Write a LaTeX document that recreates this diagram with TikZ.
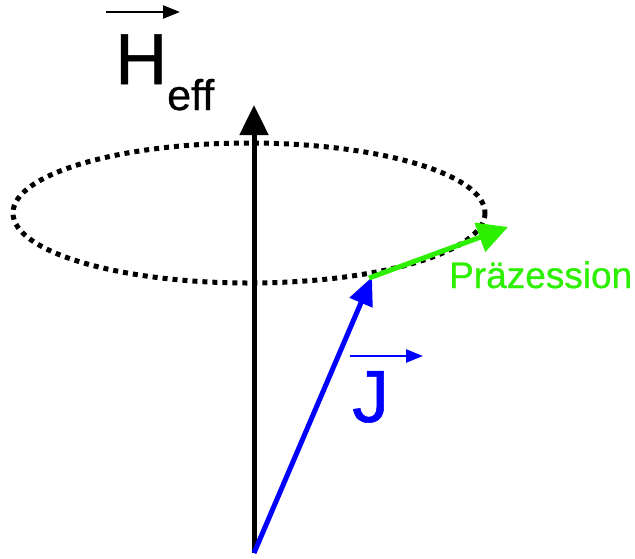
\documentclass[tikz,border=0pt]{standalone}
\usepackage{fontspec}
\setmainfont{Liberation Sans}
\newfontfamily\labelfont[FakeBold=0.7]{Liberation Sans}
\usetikzlibrary{arrows.meta}
\definecolor{spinblue}{RGB}{0,0,255}
\definecolor{precgreen}{RGB}{45,240,0}
\tikzset{
  axis/.style={line width=5pt,-{Triangle[length=30pt,width=28pt]}},
  vecbar/.style={line width=2.4pt,-{Triangle[length=17pt,width=13pt]}},
  orbit/.style={line width=5pt,dash pattern=on 5pt off 5pt},
  lbl/.style={anchor=base west,inner sep=0},
}
\begin{document}
\begin{tikzpicture}[x=1pt,y=-1pt]
    \useasboundingbox (0,0) rectangle (635,558);
    % points
    \coordinate (o) at (254,553);
    \coordinate (top) at (254,105);
    \coordinate (jtip) at (372,277);
    \coordinate (ptip) at (508,227);
    \coordinate (hbarl) at (106,12);
    \coordinate (hbarr) at (180,12);
    \coordinate (jbarl) at (350,356);
    \coordinate (jbarr) at (423,356);
    % orbit
    \draw[orbit] (249,213) ellipse [x radius=236, y radius=70];
    % vectors
    \draw[axis] (o) -- (top);
    \draw[axis,spinblue,-{Triangle[length=28pt,width=24pt]}] (o) -- (jtip);
    \draw[axis,precgreen,-{Triangle[length=30pt,width=30pt]}] (jtip) ++(-3,1) coordinate (pstart) -- (ptip);
    % labels
    \node[lbl,font=\labelfont\fontsize{72}{72}\selectfont] (h) at (115,84) {H};
    \node[lbl,font=\labelfont\fontsize{43}{43}\selectfont] (eff) at (167,110) {eff};
    \draw[vecbar] (hbarl) -- (hbarr);
    \node[lbl,text=spinblue,font=\labelfont\fontsize{74}{74}\selectfont] (j) at (352,422) {J};
    \draw[vecbar,spinblue] (jbarl) -- (jbarr);
    \node[lbl,text=precgreen,font=\labelfont\fontsize{37}{37}\selectfont] (prec) at (449,288) {Präzession};
  \end{tikzpicture}
\end{document}
